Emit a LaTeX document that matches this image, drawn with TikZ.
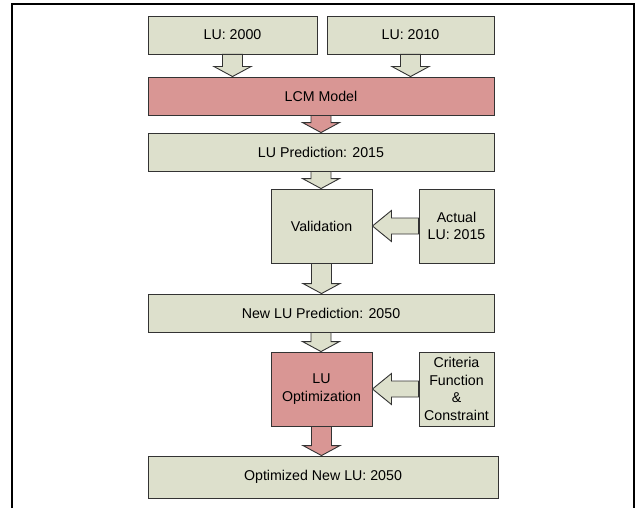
\documentclass[tikz,border=0pt]{standalone}
\usepackage{fontspec}
\setmainfont{Liberation Sans}
\usetikzlibrary{calc}
\definecolor{boxgreen}{HTML}{DDE0CC}
\definecolor{boxred}{HTML}{D99694}
\begin{document}
\begin{tikzpicture}[x=1pt,y=-1pt,
  box/.style={draw=black!80,line width=0.9pt,fill=#1,inner sep=0pt,align=center,
    font=\fontsize{14.2}{17.5}\selectfont},
  box/.default=boxgreen,
  down arrow/.style={draw=black!80,line width=0.9pt,fill=#1,
    to path={let \p1=(\tikztostart.south), \p2=(\tikztotarget.north) in
      (\x1-10pt,\y1) -- (\x1+10pt,\y1) -- (\x1+10pt,\y2+10pt) -- (\x1+18.5pt,\y2+10pt)
      -- (\x1,\y2) -- (\x1-18.5pt,\y2+10pt) -- (\x1-10pt,\y2+10pt) -- cycle}},
  down arrow/.default=boxgreen,
  left arrow/.style={draw=black!80,line width=0.9pt,fill=boxgreen,
    to path={let \p1=(\tikztostart.west), \p2=(\tikztotarget.east) in
      (\x1,\y1-8pt) -- (\x2+19pt,\y1-8pt) -- (\x2+19pt,\y1-15.5pt) -- (\x2,\y1)
      -- (\x2+19pt,\y1+15.5pt) -- (\x2+19pt,\y1+8pt) -- (\x1,\y1+8pt) -- cycle}}]
    \useasboundingbox (0,0) rectangle (636,508);
    \draw [line width=2pt] (12,508) -- (12,4) -- (634,4) -- (634,508);
    \node [box, minimum width=169pt, minimum height=38pt] (lu00) at (232.5,35) {LU: 2000};
    \node [box, minimum width=167pt, minimum height=38pt] (lu10) at (410.5,35) {LU: 2010};
    \node [box=boxred, minimum width=346pt, minimum height=38pt] (lcm) at (321,96) {LCM Model};
    \node [box, minimum width=346pt, minimum height=38pt] (pred15) at (321,152) {LU Prediction: 2015};
    \node [box, minimum width=101pt, minimum height=74pt] (valid) at (321.5,226) {Validation};
    \node [box, minimum width=75pt, minimum height=74pt] (actual) at (456.5,226) {Actual\\LU: 2015};
    \node [box, minimum width=346pt, minimum height=38pt] (pred50) at (321,313) {New LU Prediction: 2050};
    \node [box=boxred, minimum width=101pt, minimum height=74pt] (opt) at (321.5,389) {LU\\Optimization};
    \node [box, minimum width=75pt, minimum height=74pt] (crit) at (456.5,389) {Criteria\\Function\\\&\\Constraint};
    \node [box, minimum width=350pt, minimum height=42pt] (final) at (323,477) {Optimized New LU: 2050};
    \draw [down arrow] (lu00) to (lcm);
    \draw [down arrow] (lu10) to (lcm);
    \draw [down arrow=boxred] (lcm) to (pred15);
    \draw [down arrow] (pred15) to (valid);
    \draw [left arrow] (actual) to (valid);
    \draw [down arrow] (valid) to (pred50);
    \draw [down arrow] (pred50) to (opt);
    \draw [left arrow] (crit) to (opt);
    \draw [down arrow=boxred] (opt) to (final);
\end{tikzpicture}
\end{document}
